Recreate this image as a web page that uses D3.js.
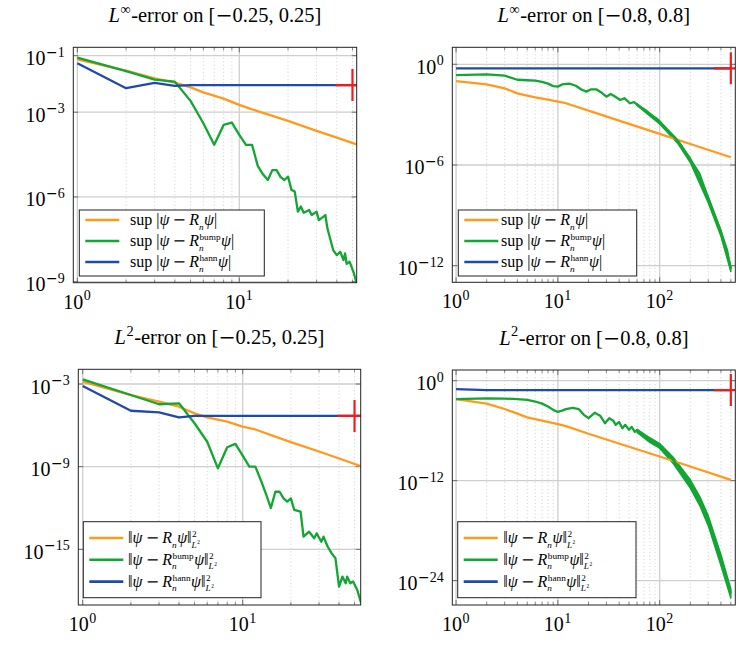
<!DOCTYPE html>
<html>
<head>
<meta charset="utf-8">
<title>error plots</title>
<script src="https://d3js.org/d3.v7.min.js"></script>
<style>
  body { margin: 0; background: #fff; }
  svg { display: block; font-family: "Liberation Serif", "DejaVu Serif", serif; }
  text { white-space: pre; fill: #000; }
</style>
</head>
<body>
<svg id="chart" width="749" height="645"></svg>
<script>
// ---- data: [n, log10(error)] ----
// sup-error on [-0.25, 0.25]
const infSmallPlain = [[1,-1.13],[2,-1.53],[3,-1.80],[4,-1.95],[5,-2.12],[6,-2.3],[8,-2.52],[10,-2.74],[12,-2.9],[15,-3.08],[20,-3.31],[30,-3.66],[40,-3.9],[53,-4.14]];
const infSmallBump = [[1,-1.07],[2,-1.55],[3,-1.85],[4,-1.92],[5,-2.6],[6,-3.39],[7,-4.15],[8,-3.45],[9,-3.37],[10,-3.8],[11,-4.16],[12,-4.16],[13,-4.9],[14,-5.2],[15,-5.4],[16,-5.05],[17,-5.05],[18,-5.3],[19,-5.4],[20,-5.28],[21,-5.75],[22,-5.81],[23,-6.52],[24,-6.34],[25,-6.56],[27,-6.46],[28,-6.64],[30,-6.52],[31,-6.82],[34,-6.64],[35,-7.11],[38,-7.88],[40,-8.06],[42,-7.94],[44,-8.23],[45,-8.0],[46,-8.37],[48,-8.29],[51,-8.7],[53,-9.05]];
const infSmallHann = [[1,-1.27],[2,-2.15],[3,-1.96],[4,-2.07],[5,-2.04],[53,-2.04]];

// sup-error on [-0.8, 0.8]
const infWidePlain = [[1,-1.0],[2,-1.19],[3,-1.43],[4,-1.73],[5,-1.86],[6,-1.97],[8,-2.1],[10,-2.23],[12,-2.32],[20,-2.76],[50,-3.55],[100,-4.15],[200,-4.75],[500,-5.54]];
const infWideBump = [[1,-0.64],[2,-0.6],[3,-0.68],[4,-0.92],[5,-0.95],[6,-0.97],[7,-1.05],[8,-1.15],[9,-1.3],[10,-1.33],[11,-1.2],[13,-1.15],[15,-1.28],[17,-1.5],[19,-1.63],[21,-1.5],[24,-1.5],[27,-1.7],[30,-1.93],[33,-1.77],[36,-1.9],[41,-2.13],[45,-2.02],[51,-2.32],[56,-2.25],[64,-2.53],[72,-2.72],[83,-3.02],[97,-3.32],[113,-3.81],[132,-4.21],[153,-4.61],[192,-5.5],[245,-6.5],[313,-8.28],[394,-9.87],[459,-11.07],[500,-12.2]];
const infWideHann = [[1,-0.24],[500,-0.24]];
const infWideBand = [[60,-2.35,-2.45],[80,-2.93,-3.08],[100,-3.38,-3.55],[150,-4.5,-4.7],[200,-5.6,-5.85],[300,-7.9,-8.25],[400,-9.9,-10.25],[500,-12.05,-12.35]];

// squared L2-error on [-0.25, 0.25]
const l2SmallPlain = [[1,-2.83],[2,-3.8],[3,-4.28],[4,-4.65],[5,-5.13],[6,-5.42],[8,-5.73],[10,-6.1],[12,-6.3],[20,-7.22],[30,-7.9],[55,-8.97]];
const l2SmallBump = [[1,-2.66],[2,-3.8],[3,-4.47],[4,-4.4],[5,-5.85],[6,-7.19],[7,-9.12],[8,-7.59],[9,-7.35],[10,-8.2],[11,-9.0],[12,-9.0],[13,-10.0],[14,-11.0],[15,-12.0],[16,-10.82],[17,-10.82],[18,-11.3],[19,-11.54],[20,-11.3],[21,-12.14],[23,-12.27],[24,-14.08],[26,-13.72],[28,-14.2],[29,-13.84],[31,-14.45],[32,-14.08],[34,-14.81],[36,-15.29],[38,-15.65],[40,-17.7],[42,-16.98],[44,-17.46],[45,-16.98],[47,-17.46],[49,-17.34],[52,-17.95],[55,-18.9]];
const l2SmallHann = [[1,-3.15],[2,-4.94],[3,-5.06],[4,-5.42],[5,-5.32],[55,-5.32]];

// squared L2-error on [-0.8, 0.8]
const l2WidePlain = [[1,-2.2],[2,-2.75],[3,-3.4],[4,-3.95],[5,-4.4],[7,-4.8],[10,-5.2],[12,-5.45],[20,-6.37],[50,-7.93],[100,-9.1],[200,-10.3],[500,-11.9]];
const l2WideBump = [[1,-2.2],[2,-2.12],[3,-2.15],[4,-2.2],[5,-2.3],[6,-2.5],[7,-2.75],[8,-3.1],[9,-3.5],[10,-3.75],[11,-3.6],[12,-3.42],[14,-3.25],[16,-3.4],[18,-4.1],[20,-4.5],[23,-3.85],[26,-4.2],[29,-5.1],[32,-4.5],[35,-4.8],[37,-5.3],[40,-4.95],[43,-5.7],[46,-5.3],[50,-5.9],[53,-5.55],[57,-6.15],[60,-5.9],[70,-6.6],[80,-7.1],[100,-7.8],[120,-8.8],[135,-9.5],[160,-10.6],[200,-12.3],[250,-14.5],[300,-16.8],[350,-19.2],[400,-21.5],[450,-23.6],[500,-25.5]];
const l2WideHann = [[1,-1.0],[2,-1.12],[500,-1.12]];
const l2WideBand = [[60,-5.85,-6.2],[80,-6.85,-7.4],[100,-7.55,-8.1],[135,-9.15,-9.9],[200,-11.9,-12.9],[250,-14.0,-15.1],[300,-16.2,-17.4],[400,-20.9,-22.2],[500,-25.0,-26.1]];

// red "+" markers at the cut-off n
const crossPts = [[50,-2.04],[500,-0.24],[50,-5.32],[500,-1.12]];

// tick exponents
const xTicksShort = [0, 1];
const xTicksLong = [0, 1, 2];
const yTicks = [[-1,-3,-6,-9],[0,-6,-12],[-3,-9,-15],[0,-12,-24]];

const titleRange = ['[−0.25, 0.25]', '[−0.8, 0.8]', '[−0.25, 0.25]', '[−0.8, 0.8]'];
const titleNorm = ['∞', '∞', '2', '2'];
const legendScripts = [null, 'bump', 'hann'];
const colors = ['#ff9a1f', '#12a633', '#1f4aaa'];
const crossColor = '#f01c1c';

// ---- helpers ----
const svg = d3.select('#chart');
svg.append('rect').attr('width', 749).attr('height', 645).attr('fill', '#fff');

function put(g, str, x, y, size, italic) {
    // the math minus is drawn wider, like the TeX one
    let cx = x;
    str.split(/(−)/).forEach(part => {
        if (!part) return;
        const t = g.append('text').attr('x', cx).attr('y', y).attr('font-size', size).text(part);
        if (part === '−') t.attr('font-family', 'DejaVu Serif').attr('font-weight', 300);
        if (italic) t.attr('font-style', 'italic');
        cx += t.node().getComputedTextLength();
    });
    return cx - x;
}

// pieces: plain strings, {i: italic}, {gap: em}, {sup: [...], sub: [...]}
const textScripts = {up: 0.42, down: 0.26, k: 0.7};
const legendScriptPos = {up: 0.37, down: 0.29, k: 0.58};

function math(g, pieces, x, y, size, sc = textScripts) {
    let cx = x;
    for (const p of pieces) {
        if (typeof p === 'string') {
            cx += put(g, p, cx, y, size, false);
        } else if (p.i) {
            cx += put(g, p.i, cx, y, size, true);
        } else if (p.gap) {
            cx += p.gap * size;
        } else {
            let w = 0;
            if (p.sup) w = Math.max(w, math(g, p.sup, cx + 0.5, y - size * sc.up, size * sc.k, sc) - cx);
            if (p.sub) w = Math.max(w, math(g, p.sub, cx, y + size * sc.down, size * sc.k, sc) - cx);
            cx += w + 0.5;
        }
    }
    return cx;
}

function legendPieces(k, script) {
    const R = script ? {sup: [script], sub: [{i: 'n'}]} : {sub: [{i: 'n'}]};
    const minus = [{gap: 0.2}, '−', {gap: 0.2}];
    if (k < 2) return ['sup', {gap: 0.25}, '|', {i: 'ψ'}, ...minus, {i: 'R'}, R, {i: 'ψ'}, '|'];
    return ['‖', {i: 'ψ'}, ...minus, {i: 'R'}, R, {i: 'ψ'}, '‖', {sup: ['2'], sub: [{i: 'L'}, {sup: ['2']}]}];
}

const panels = [
    {frame: [73.3, 47.3, 356.7, 282.7], xLog: [-0.025, 1.725], yLog: [-9.035, -0.703], xt: xTicksShort,
     data: [infSmallPlain, infSmallBump, infSmallHann], band: null, legend: [79.3, 210, 185, 66, 50.7, 21]},
    {frame: [452.3, 47.3, 735.3, 282.3], xLog: [-0.037, 2.743], yLog: [-12.99, 1.013], xt: xTicksLong,
     data: [infWidePlain, infWideBump, infWideHann], band: infWideBand, legend: [458.3, 210, 178.4, 66, 42.7, 21]},
    {frame: [78.3, 369.3, 360.7, 605], xLog: [-0.0275, 1.7375], yLog: [-19.04, -1.933], xt: xTicksShort,
     data: [l2SmallPlain, l2SmallBump, l2SmallHann], band: null, legend: [83.3, 521.7, 177.7, 76, 44.7, 21.8]},
    {frame: [452.3, 370, 735.3, 605], xLog: [-0.037, 2.743], yLog: [-26.93, 1.285], xt: xTicksLong,
     data: [l2WidePlain, l2WideBump, l2WideHann], band: l2WideBand, legend: [457.7, 521.7, 178.3, 76, 45.6, 21.8]}
];

panels.forEach((cfg, k) => {
    const [x0, y0, x1, y1] = cfg.frame;
    const x = d3.scaleLog().domain([10 ** cfg.xLog[0], 10 ** cfg.xLog[1]]).range([x0, x1]);
    const y = d3.scaleLog().domain([10 ** cfg.yLog[0], 10 ** cfg.yLog[1]]).range([y1, y0]);
    const g = svg.append('g');

    g.append('clipPath').attr('id', 'clip' + k)
        .append('rect').attr('x', x0).attr('y', y0).attr('width', x1 - x0).attr('height', y1 - y0);

    // grid
    const minor = [];
    for (let e = Math.floor(cfg.xLog[0]); e <= Math.ceil(cfg.xLog[1]); e++) {
        for (let m = 2; m <= 9; m++) {
            const v = m * 10 ** e;
            if (Math.log10(v) > cfg.xLog[0] && Math.log10(v) < cfg.xLog[1]) minor.push(v);
        }
    }
    const major = cfg.xt.map(e => 10 ** e);
    g.selectAll('.mg').data(minor).enter().append('line')
        .attr('x1', d => x(d)).attr('x2', d => x(d)).attr('y1', y0).attr('y2', y1)
        .attr('stroke', '#c4c4c4').attr('stroke-width', 0.8).attr('stroke-dasharray', '1,2.5');
    g.selectAll('.Mg').data(major).enter().append('line')
        .attr('x1', d => x(d)).attr('x2', d => x(d)).attr('y1', y0).attr('y2', y1)
        .attr('stroke', '#cfcfcf').attr('stroke-width', 1.3);
    g.selectAll('.Yg').data(yTicks[k]).enter().append('line')
        .attr('y1', d => y(10 ** d)).attr('y2', d => y(10 ** d)).attr('x1', x0).attr('x2', x1)
        .attr('stroke', '#cfcfcf').attr('stroke-width', 1.3);

    // ticks (inside, top and bottom / left and right)
    minor.forEach(v => {
        [[y0, y0 + 3], [y1, y1 - 3]].forEach(([a, b]) => g.append('line')
            .attr('x1', x(v)).attr('x2', x(v)).attr('y1', a).attr('y2', b).attr('stroke', '#555').attr('stroke-width', 0.7));
    });
    major.forEach(v => {
        [[y0, y0 + 5], [y1, y1 - 5]].forEach(([a, b]) => g.append('line')
            .attr('x1', x(v)).attr('x2', x(v)).attr('y1', a).attr('y2', b).attr('stroke', '#555').attr('stroke-width', 0.8));
    });
    yTicks[k].forEach(e => {
        [[x0, x0 + 5], [x1, x1 - 5]].forEach(([a, b]) => g.append('line')
            .attr('y1', y(10 ** e)).attr('y2', y(10 ** e)).attr('x1', a).attr('x2', b).attr('stroke', '#555').attr('stroke-width', 0.8));
    });

    // curves
    const plot = g.append('g').attr('clip-path', 'url(#clip' + k + ')');
    const line = d3.line().x(d => x(d[0])).y(d => y(10 ** d[1]));
    if (cfg.band) {
        const area = d3.area().x(d => x(d[0])).y0(d => y(10 ** d[2])).y1(d => y(10 ** d[1]));
        plot.append('path').datum(cfg.band).attr('d', area).attr('fill', colors[1])
            .attr('stroke', colors[1]).attr('stroke-width', 1.5).attr('stroke-linejoin', 'round');
    }
    cfg.data.forEach((s, i) => {
        plot.append('path').datum(s).attr('d', line).attr('fill', 'none')
            .attr('stroke', colors[i]).attr('stroke-width', 2.3).attr('stroke-linejoin', 'round');
    });

    // red cross
    const [cn, ce] = crossPts[k];
    const cx = x(cn), cy = y(10 ** ce);
    plot.append('line').attr('x1', cx - 17).attr('x2', cx + 17).attr('y1', cy).attr('y2', cy)
        .attr('stroke', crossColor).attr('stroke-width', 2.2);
    plot.append('line').attr('x1', cx).attr('x2', cx).attr('y1', cy - 16).attr('y2', cy + 16)
        .attr('stroke', crossColor).attr('stroke-width', 2.2);

    // frame
    g.append('rect').attr('x', x0).attr('y', y0).attr('width', x1 - x0).attr('height', y1 - y0)
        .attr('fill', 'none').attr('stroke', '#222').attr('stroke-width', 1);

    // tick labels
    major.forEach((v, i) => {
        const lg = g.append('g');
        const w = math(lg, ['10', {sup: [String(cfg.xt[i])]}], 0, 0, 20);
        lg.attr('transform', `translate(${x(v) - w / 2},${y1 + 26})`);
    });
    yTicks[k].forEach(e => {
        const lg = g.append('g');
        const w = math(lg, ['10', {sup: [e === 0 ? '0' : '−' + (-e)]}], 0, 0, 20);
        lg.attr('transform', `translate(${x0 - 8 - w},${y(10 ** e) + 9.5})`);
    });

    // title
    const tg = g.append('g');
    const tw = math(tg, [{i: 'L'}, {sup: [titleNorm[k]]}, '-error on ' + titleRange[k]], 0, 0, 20.5);
    tg.attr('transform', `translate(${(x0 + x1) / 2 - tw / 2},${y0 - 25})`);

    // legend
    const [lx, ly, lw, lh, tx, step] = cfg.legend;
    const leg = g.append('g');
    leg.append('rect').attr('x', lx).attr('y', ly).attr('width', lw).attr('height', lh)
        .attr('fill', '#fff').attr('stroke', '#222').attr('stroke-width', 1);
    const top = lh > 70 ? 16.3 : 10;
    legendScripts.forEach((s, i) => {
        const ry = ly + top + i * step;
        leg.append('line').attr('x1', lx + 6).attr('x2', lx + 40).attr('y1', ry).attr('y2', ry)
            .attr('stroke', colors[i]).attr('stroke-width', 2.6);
        math(leg, legendPieces(k, s), lx + tx, ry + 5, 16, legendScriptPos);
    });
});
</script>
</body>
</html>
